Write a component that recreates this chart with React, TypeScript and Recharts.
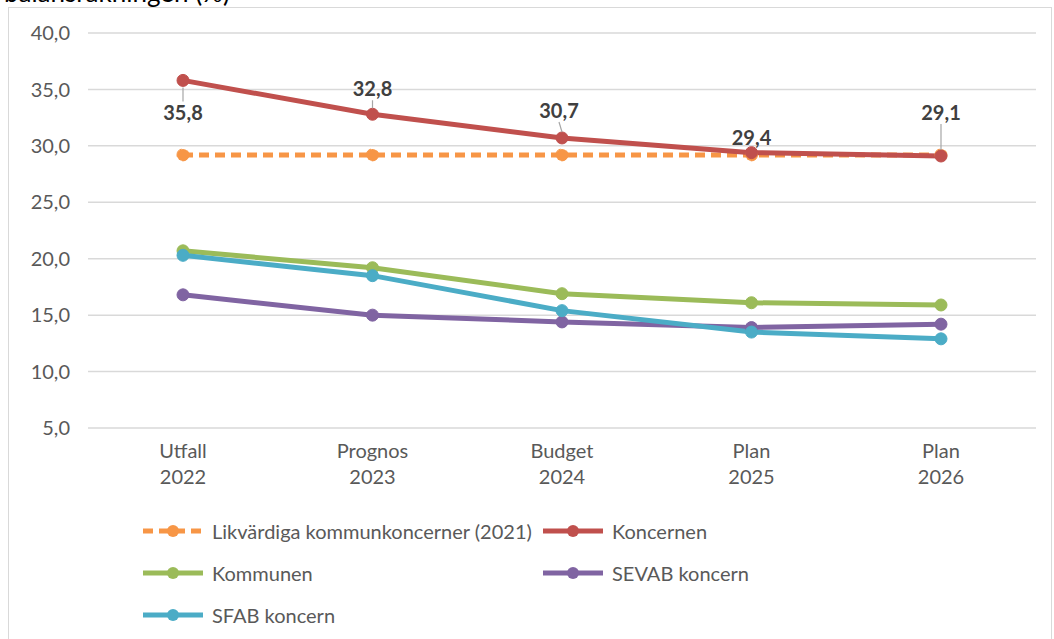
import React from 'react';
import { LineChart, Line, XAxis, YAxis, CartesianGrid, Legend, LabelList } from 'recharts';

const categories = ['Utfall 2022', 'Prognos 2023', 'Budget 2024', 'Plan 2025', 'Plan 2026'];
const likvardiga = [29.2, 29.2, 29.2, 29.2, 29.2];
const koncernen = [35.8, 32.8, 30.7, 29.4, 29.1];
const kommunen = [20.7, 19.2, 16.9, 16.1, 15.9];
const sevab = [16.8, 15.0, 14.4, 13.9, 14.2];
const sfab = [20.3, 18.5, 15.4, 13.5, 12.9];
const yTicks = [5, 10, 15, 20, 25, 30, 35, 40];

const seriesNames = ['Likvärdiga kommunkoncerner (2021)', 'Koncernen', 'Kommunen', 'SEVAB koncern', 'SFAB koncern'];
const seriesKeys = ['likvardiga', 'koncernen', 'kommunen', 'sevab', 'sfab'];
const seriesColors = ['#F79646', '#C0504D', '#9BBB59', '#8064A2', '#4BACC6'];

// label placement relative to the data point (style, not data)
const labelOffsets: [number, number][] = [[0, 33], [0, -25], [-3, -27], [0, -15], [0, -43]];

const data = categories.map((c, i) => ({
  cat: c,
  likvardiga: likvardiga[i],
  koncernen: koncernen[i],
  kommunen: kommunen[i],
  sevab: sevab[i],
  sfab: sfab[i],
}));

const FONT = "Lato, 'Open Sans', sans-serif";
const fmt = (v: number) => v.toFixed(1).replace('.', ',');

const XTick = (props: any) => {
  const { x, y, payload } = props;
  const s = String(payload.value);
  const idx = s.lastIndexOf(' ');
  const l1 = s.slice(0, idx);
  const l2 = s.slice(idx + 1);
  return (
    <g>
      <text x={x} y={y + 22} textAnchor="middle" fill="#595959" fontSize={20} fontFamily={FONT}>{l1}</text>
      <text x={x} y={y + 48} textAnchor="middle" fill="#595959" fontSize={20} fontFamily={FONT}>{l2}</text>
    </g>
  );
};

const DataLabel = (props: any) => {
  const { x, y, value, index } = props;
  const [dx, dy] = labelOffsets[index] || [0, -20];
  const lx = x + dx;
  const ly = y + dy;
  let line = null;
  if (dy > 0) {
    line = <line x1={x} y1={y + 7} x2={lx} y2={ly - 12} stroke="#A6A6A6" strokeWidth={1.2} />;
  } else if (dy < -20) {
    line = <line x1={lx} y1={ly + 11} x2={x} y2={y - 6} stroke="#A6A6A6" strokeWidth={1.2} />;
  }
  return (
    <g>
      {line}
      <text x={lx} y={ly} dy="0.35em" textAnchor="middle" fill="#404040" fontSize={20} fontWeight="bold" fontFamily={FONT}>
        {fmt(Number(value))}
      </text>
    </g>
  );
};

const LegendContent = () => (
  <div style={{ display: 'grid', gridTemplateColumns: '400px 400px', fontFamily: FONT }}>
    {seriesNames.map((n, i) => (
      <div key={n} style={{ display: 'flex', alignItems: 'center', height: 42 }}>
        <svg width={60} height={20} style={{ flex: 'none' }}>
          <line x1={0} y1={10} x2={60} y2={10} stroke={seriesColors[i]} strokeWidth={5}
            strokeDasharray={i === 0 ? '10 6' : undefined} />
          <circle cx={30} cy={10} r={6} fill={seriesColors[i]} />
        </svg>
        <span style={{ marginLeft: 9, fontSize: 20, color: '#595959', whiteSpace: 'nowrap' }}>{n}</span>
      </div>
    ))}
  </div>
);

export default function App() {
  return (
    <div style={{ position: 'absolute', left: 0, top: 0, width: 1054, height: 639, overflow: 'hidden', background: '#fff' }}>
      <svg width={400} height={20} style={{ position: 'absolute', left: 0, top: 0 }}>
        <text x={4} y={2} fontSize={26} fontFamily={FONT} fill="#000">balansräkningen (%)</text>
      </svg>
      <div style={{ position: 'absolute', left: 8, top: 7, width: 1044, height: 700, border: '1px solid #D9D9D9', boxSizing: 'border-box' }} />
      <div style={{ position: 'absolute', left: 9, top: 8 }}>
        <LineChart width={1042} height={640} data={data} margin={{ top: 25, right: 15, left: 0, bottom: 140 }}>
          <CartesianGrid vertical={false} stroke="#D9D9D9" strokeWidth={1.5} />
          <XAxis dataKey="cat" axisLine={false} tickLine={false} tick={<XTick />} height={80}
            padding={{ left: 95, right: 95 }} interval={0} />
          <YAxis domain={[5, 40]} ticks={yTicks} width={79} axisLine={false} tickLine={false} tickMargin={12}
            tickFormatter={fmt} tick={{ fill: '#595959', fontSize: 20, fontFamily: FONT }} />
          <Legend layout="horizontal" verticalAlign="middle" align="center"
            wrapperStyle={{ top: 502, left: 134, width: 820, height: 130 }} content={<LegendContent />} />
          {seriesKeys.map((k, i) => (
            <Line key={k} type="linear" dataKey={k} name={seriesNames[i]} stroke={seriesColors[i]} strokeWidth={5}
              strokeDasharray={i === 0 ? '10 6' : undefined}
              dot={{ r: 6, fill: seriesColors[i], stroke: seriesColors[i], strokeWidth: 1 }}
              activeDot={false} isAnimationActive={false}>
              {k === 'koncernen' ? <LabelList dataKey={k} content={<DataLabel />} /> : null}
            </Line>
          ))}
        </LineChart>
      </div>
    </div>
  );
}
